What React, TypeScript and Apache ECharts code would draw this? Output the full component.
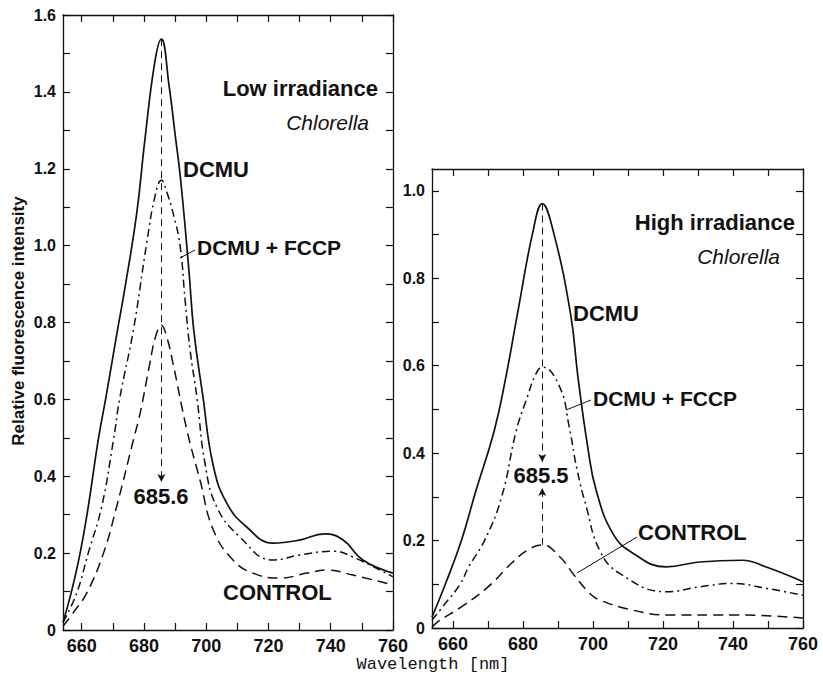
import React, { useEffect, useRef } from "react";
import * as echarts from "echarts";

// Axis ticks and labels
const wavelengthTicks = [660, 670, 680, 690, 700, 710, 720, 730, 740, 750, 760];
const wavelengthLabels = [660, 680, 700, 720, 740, 760];
const lowIntensityTicks = [0, 0.1, 0.2, 0.3, 0.4, 0.5, 0.6, 0.7, 0.8, 0.9, 1.0, 1.1, 1.2, 1.3, 1.4, 1.5, 1.6];
const lowIntensityLabels = [0, 0.2, 0.4, 0.6, 0.8, 1.0, 1.2, 1.4, 1.6];
const highIntensityTicks = [0, 0.1, 0.2, 0.3, 0.4, 0.5, 0.6, 0.7, 0.8, 0.9, 1.0];
const highIntensityLabels = [0, 0.2, 0.4, 0.6, 0.8, 1.0];

// Emission maxima (nm)
const lowPeak = 685.6;
const highPeak = 685.5;

// Low irradiance spectra: [wavelength nm, relative intensity]
const lowDcmu = [
  [654, 0.02], [656.6, 0.096], [659.5, 0.2], [662.1, 0.32], [665.3, 0.494], [667.8, 0.606],
  [671.5, 0.78], [673.9, 0.89], [677.7, 1.085], [680.3, 1.275], [683.5, 1.478], [lowPeak, 1.537],
  [688.1, 1.414], [690, 1.29], [691.8, 1.17], [694.5, 0.93], [696, 0.78], [698.9, 0.61],
  [702.2, 0.43], [706.6, 0.33], [713, 0.268], [721.4, 0.226], [730, 0.234], [738, 0.25],
  [744, 0.234], [750.3, 0.182], [760, 0.148],
];
const lowDcmuFccp = [
  [654, 0.02], [658.4, 0.096], [662.1, 0.2], [666.4, 0.32], [670.2, 0.494], [672.3, 0.606],
  [676.6, 0.78], [680.9, 1.007], [683.6, 1.13], [lowPeak, 1.17], [687.3, 1.14], [689.5, 1.08],
  [691.6, 1.0], [693.2, 0.86], [694.8, 0.73], [697, 0.606], [699.6, 0.434], [703.4, 0.32],
  [710.8, 0.242], [721.4, 0.182], [730, 0.195], [740.7, 0.205], [747.1, 0.19], [760, 0.138],
];
const lowControl = [
  [654, 0.01], [657.2, 0.044], [661.6, 0.096], [667, 0.2], [671.2, 0.32], [676.6, 0.494],
  [678.8, 0.565], [681.9, 0.694], [683.8, 0.765], [lowPeak, 0.793], [687.4, 0.76], [689.3, 0.695],
  [693.8, 0.52], [698, 0.39], [702.3, 0.26], [708.6, 0.182], [715, 0.148], [723.7, 0.135],
  [732.3, 0.148], [738.8, 0.156], [747.1, 0.143], [760, 0.117],
];

// High irradiance spectra
const highDcmu = [
  [654, 0.025], [657.8, 0.1], [662.4, 0.2], [666.4, 0.31], [671.8, 0.452], [675.1, 0.574],
  [678.4, 0.718], [682.9, 0.909], [highPeak, 0.971], [688.6, 0.909], [693.6, 0.718], [695.7, 0.574],
  [698.5, 0.414], [700.9, 0.315], [705.7, 0.216], [711.4, 0.171], [720.9, 0.14], [730.4, 0.151],
  [742.7, 0.155], [749.3, 0.14], [760, 0.106],
];
const highDcmuFccp = [
  [654, 0.018], [657.2, 0.05], [662, 0.1], [664.5, 0.14], [669, 0.2], [673.9, 0.3], [678.1, 0.452],
  [681.3, 0.53], [683.6, 0.58], [highPeak, 0.597], [690.5, 0.551], [693.2, 0.46], [695.5, 0.36],
  [698.1, 0.277], [701.9, 0.178], [707.6, 0.125], [720.9, 0.083], [730.4, 0.094], [739.8, 0.102],
  [749.3, 0.091], [760, 0.075],
];
const highControl = [
  [654, 0.002], [655.8, 0.015], [662.5, 0.049], [670, 0.094], [676.7, 0.148], [681.3, 0.178],
  [highPeak, 0.19], [690.5, 0.163], [694.5, 0.122], [699, 0.08], [701.9, 0.064], [711.3, 0.041],
  [721, 0.03], [739.8, 0.03], [760, 0.023],
];

// Arrow ends of the peak markers
const lowArrowEnd = 0.385;
const highArrowDownEnd = 0.38;
const highArrowUpEnd = 0.32;

const INK = "#111";
const SANS = "'Liberation Sans', Arial, Helvetica, sans-serif";

const peakValue = (series: number[][], x: number) =>
  (series.find((p) => p[0] === x) as number[])[1];

const fmtY = (v: number) => (Math.abs(v) < 1e-9 ? "0" : v.toFixed(1));

function xAxesFor(gridIndex: number) {
  const common = {
    type: "value" as const,
    gridIndex,
    min: 654,
    max: 760,
    splitLine: { show: false },
    axisLine: { show: true, onZero: false, lineStyle: { color: INK, width: 1.3 } },
    axisTick: {
      show: true,
      inside: true,
      length: 7,
      customValues: wavelengthTicks,
      lineStyle: { color: INK, width: 1.2 },
    },
  };
  return [
    {
      ...common,
      position: "bottom",
      axisLabel: {
        show: true,
        customValues: wavelengthLabels,
        color: INK,
        fontFamily: SANS,
        fontWeight: "bold",
        fontSize: 18,
        margin: 7,
      },
    },
    { ...common, position: "top", axisLabel: { show: false } },
  ];
}

function yAxesFor(gridIndex: number, max: number, ticks: number[], labels: number[]) {
  const common = {
    type: "value" as const,
    gridIndex,
    min: 0,
    max,
    splitLine: { show: false },
    axisLine: { show: true, onZero: false, lineStyle: { color: INK, width: 1.3 } },
    axisTick: {
      show: true,
      inside: true,
      length: 7,
      customValues: ticks,
      lineStyle: { color: INK, width: 1.2 },
    },
  };
  return [
    {
      ...common,
      position: "left",
      axisLabel: {
        show: true,
        customValues: labels,
        formatter: fmtY,
        color: INK,
        fontFamily: SANS,
        fontWeight: "bold",
        fontSize: 16,
        margin: 7,
      },
    },
    { ...common, position: "right", axisLabel: { show: false } },
  ];
}

function spectrum(
  name: string,
  data: number[][],
  axisIndex: number,
  dash: number[] | "solid",
  width: number,
  markLine?: any
) {
  return {
    name,
    type: "line",
    xAxisIndex: axisIndex,
    yAxisIndex: axisIndex,
    data,
    showSymbol: false,
    smooth: 0.45,
    silent: true,
    lineStyle: { color: INK, width, type: dash },
    markLine,
  };
}

function arrowLine(segments: number[][][]) {
  return {
    silent: true,
    symbol: ["none", "arrow"],
    symbolSize: [6, 8],
    label: { show: false },
    lineStyle: { color: INK, width: 1, type: [7, 5] },
    emphasis: { disabled: true },
    data: segments.map(([a, b]) => [{ coord: a }, { coord: b }]),
  };
}

function label(
  text: string,
  x: number,
  y: number,
  opts: { size?: number; weight?: string; italic?: boolean; align?: string; family?: string; rotation?: number } = {}
) {
  return {
    type: "text",
    x,
    y,
    rotation: opts.rotation ?? 0,
    silent: true,
    style: {
      text,
      fill: INK,
      fontFamily: opts.family ?? SANS,
      fontSize: opts.size ?? 21,
      fontWeight: opts.weight ?? "bold",
      fontStyle: opts.italic ? "italic" : "normal",
      align: opts.align ?? "left",
      verticalAlign: "middle",
    },
  };
}

function leader(x1: number, y1: number, x2: number, y2: number) {
  return {
    type: "line",
    silent: true,
    shape: { x1, y1, x2, y2 },
    style: { stroke: INK, lineWidth: 1 },
  };
}

export default function App() {
  const ref = useRef<HTMLDivElement>(null);

  useEffect(() => {
    if (!ref.current) return;
    const chart = echarts.init(ref.current, undefined, { renderer: "svg" });

    const lowTop = peakValue(lowDcmu, lowPeak);
    const highTop = peakValue(highDcmu, highPeak);
    const highCtrlTop = peakValue(highControl, highPeak);

    chart.setOption({
      animation: false,
      backgroundColor: "#fff",
      grid: [
        { left: 63, top: 15, width: 330, height: 615 },
        { left: 432, top: 169, width: 371, height: 459 },
      ],
      xAxis: [...xAxesFor(0), ...xAxesFor(1)],
      yAxis: [
        ...yAxesFor(0, 1.6, lowIntensityTicks, lowIntensityLabels),
        ...yAxesFor(1, 1.05, highIntensityTicks, highIntensityLabels),
      ],
      series: [
        spectrum("DCMU", lowDcmu, 0, "solid", 1.7,
          arrowLine([[[lowPeak, lowTop], [lowPeak, lowArrowEnd]]])),
        spectrum("DCMU + FCCP", lowDcmuFccp, 0, [8, 4, 2, 4], 1.5),
        spectrum("CONTROL", lowControl, 0, [10, 6], 1.5),
        spectrum("DCMU", highDcmu, 2, "solid", 1.7,
          arrowLine([
            [[highPeak, highTop], [highPeak, highArrowDownEnd]],
            [[highPeak, highCtrlTop], [highPeak, highArrowUpEnd]],
          ])),
        spectrum("DCMU + FCCP", highDcmuFccp, 2, [8, 4, 2, 4], 1.5),
        spectrum("CONTROL", highControl, 2, [10, 6], 1.5),
      ],
      graphic: [
        // left panel
        label("Low irradiance", 378, 88, { size: 22, align: "right" }),
        label("Chlorella", 369, 122, { size: 21, weight: "normal", italic: true, align: "right" }),
        label("DCMU", 183, 169, { size: 22 }),
        label("DCMU + FCCP", 197, 247, { size: 21 }),
        leader(180, 258, 195, 250),
        label(String(lowPeak), 161, 496, { size: 22, align: "center" }),
        label("CONTROL", 223, 592, { size: 22 }),
        // right panel
        label("High irradiance", 795, 222, { size: 22, align: "right" }),
        label("Chlorella", 780, 256, { size: 21, weight: "normal", italic: true, align: "right" }),
        label("DCMU", 573, 313, { size: 22 }),
        label("DCMU + FCCP", 593, 398, { size: 21 }),
        leader(566, 410, 591, 400),
        label(String(highPeak), 541, 475, { size: 22, align: "center" }),
        label("CONTROL", 638, 532, { size: 22 }),
        leader(577, 573, 637, 537),
        // axis titles
        label("Relative fluorescence intensity", 18, 321, {
          size: 17,
          weight: "bold",
          align: "center",
          rotation: Math.PI / 2,
        }),
        label("Wavelength [nm]", 433, 664, {
          size: 17,
          weight: "normal",
          align: "center",
          family: "'Liberation Mono', 'DejaVu Sans Mono', monospace",
        }),
      ],
    });

    return () => chart.dispose();
  }, []);

  return (
    <div
      ref={ref}
      style={{ position: "fixed", left: 0, top: 0, width: 823, height: 674, background: "#fff" }}
    />
  );
}
